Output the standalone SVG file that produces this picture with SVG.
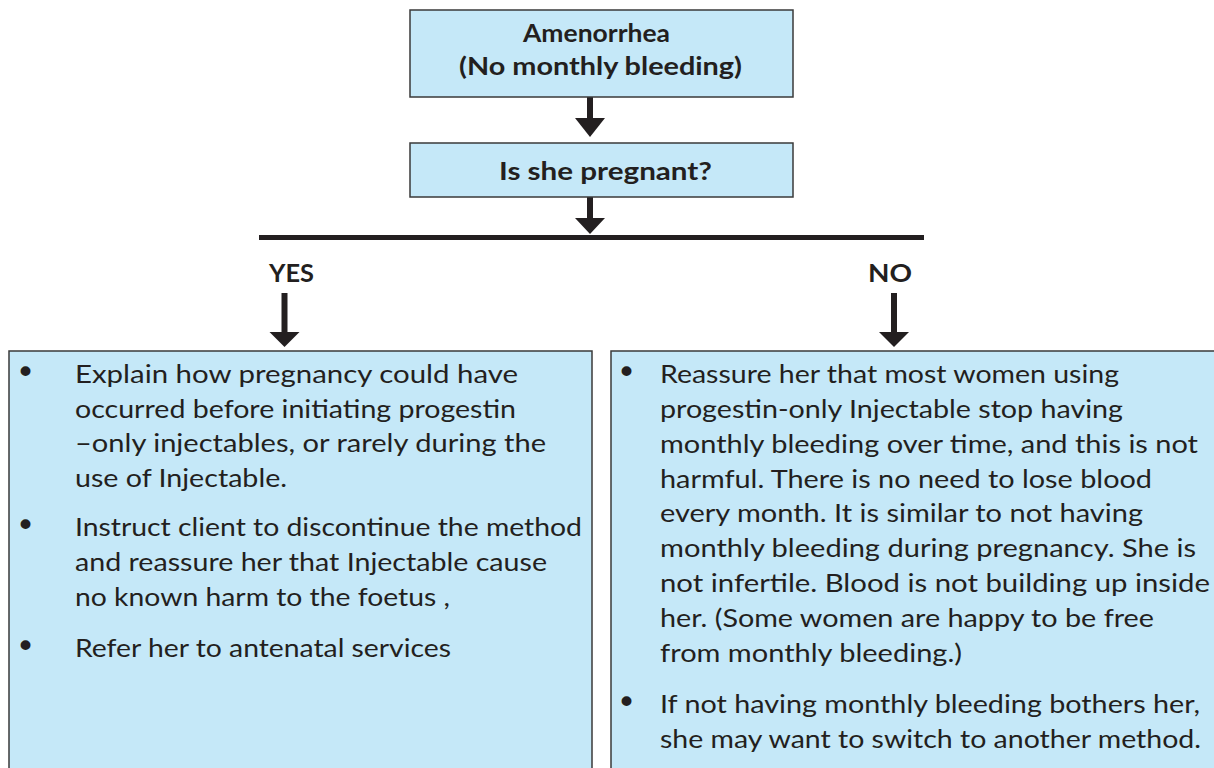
<svg xmlns="http://www.w3.org/2000/svg" width="1214" height="768" viewBox="0 0 1214 768">
<style>
.box{fill:#c5e8f8;stroke:#3a3a3a;stroke-width:1.5}
.t{font-family:Lato,"Liberation Sans",sans-serif;font-size:25px;fill:#231f20}
.b{font-family:Lato,"Liberation Sans",sans-serif;font-weight:bold;font-size:24px;fill:#231f20}
.bul{font-family:"DejaVu Sans",sans-serif;font-size:34px;fill:#231f20;text-anchor:middle}
.sh{stroke:#231f20;stroke-width:6;fill:none}
.hd{fill:#231f20}
</style>
<rect width="1214" height="768" fill="#ffffff"/>
<g id="connectors">
<line class="sh" x1="590" y1="97" x2="590" y2="119"/>
<polygon class="hd" points="575,118 605,118 590,137"/>
<line class="sh" x1="590" y1="197" x2="590" y2="219"/>
<polygon class="hd" points="575,218 605,218 590,234"/>
<line x1="259" y1="237.5" x2="924" y2="237.5" stroke="#231f20" stroke-width="5"/>
<line class="sh" x1="284.5" y1="293" x2="284.5" y2="333"/>
<polygon class="hd" points="269.5,332 299.5,332 284.5,347"/>
<line class="sh" x1="894" y1="293" x2="894" y2="333"/>
<polygon class="hd" points="879,332 909,332 894,347"/>
</g>
<g id="node-amenorrhea">
<rect class="box" x="410" y="10" width="383" height="87"/>
<text class="b" x="596.5" y="42" text-anchor="middle" textLength="147" lengthAdjust="spacingAndGlyphs">Amenorrhea</text>
<text class="b" x="600.5" y="75" text-anchor="middle" textLength="283" lengthAdjust="spacingAndGlyphs">(No monthly bleeding)</text>
</g>
<g id="node-pregnant">
<rect class="box" x="410" y="143" width="383" height="54"/>
<text class="b" x="605.5" y="180" text-anchor="middle" textLength="213" lengthAdjust="spacingAndGlyphs">Is she pregnant?</text>
</g>
<g id="label-yes">
<text class="b" x="291.5" y="282" text-anchor="middle" font-size="26" textLength="45" lengthAdjust="spacingAndGlyphs">YES</text>
</g>
<g id="label-no">
<text class="b" x="890" y="282" text-anchor="middle" font-size="26" textLength="44" lengthAdjust="spacingAndGlyphs">NO</text>
</g>
<g id="node-yes">
<rect class="box" x="9" y="351" width="583" height="450"/>
<text class="bul" x="25.5" y="384">•</text>
<text class="t" x="75" y="383" textLength="443" lengthAdjust="spacingAndGlyphs">Explain how pregnancy could have</text>
<text class="t" x="75" y="417.5" textLength="441" lengthAdjust="spacingAndGlyphs">occurred before initiating progestin</text>
<text class="t" x="75" y="452" textLength="471" lengthAdjust="spacingAndGlyphs">–only injectables, or rarely during the</text>
<text class="t" x="75" y="487" textLength="212" lengthAdjust="spacingAndGlyphs">use of Injectable.</text>
<text class="bul" x="25.5" y="537">•</text>
<text class="t" x="75" y="536" textLength="507" lengthAdjust="spacingAndGlyphs">Instruct client to discontinue the method</text>
<text class="t" x="75" y="571" textLength="472" lengthAdjust="spacingAndGlyphs">and reassure her that Injectable cause</text>
<text class="t" x="75" y="606" textLength="375" lengthAdjust="spacingAndGlyphs">no known harm to the foetus ,</text>
<text class="bul" x="25.5" y="658">•</text>
<text class="t" x="75" y="657" textLength="376" lengthAdjust="spacingAndGlyphs">Refer her to antenatal services</text>
</g>
<g id="node-no">
<rect class="box" x="611" y="351" width="700" height="450"/>
<text class="bul" x="626.5" y="384">•</text>
<text class="t" x="660" y="383" textLength="459" lengthAdjust="spacingAndGlyphs">Reassure her that most women using</text>
<text class="t" x="660" y="418" textLength="463" lengthAdjust="spacingAndGlyphs">progestin-only Injectable stop having</text>
<text class="t" x="660" y="453" textLength="538" lengthAdjust="spacingAndGlyphs">monthly bleeding over time, and this is not</text>
<text class="t" x="660" y="488" textLength="492" lengthAdjust="spacingAndGlyphs">harmful. There is no need to lose blood</text>
<text class="t" x="660" y="522" textLength="483" lengthAdjust="spacingAndGlyphs">every month. It is similar to not having</text>
<text class="t" x="660" y="557" textLength="536" lengthAdjust="spacingAndGlyphs">monthly bleeding during pregnancy. She is</text>
<text class="t" x="660" y="592" textLength="550" lengthAdjust="spacingAndGlyphs">not infertile. Blood is not building up inside</text>
<text class="t" x="660" y="627" textLength="494" lengthAdjust="spacingAndGlyphs">her. (Some women are happy to be free</text>
<text class="t" x="660" y="662" textLength="302" lengthAdjust="spacingAndGlyphs">from monthly bleeding.)</text>
<text class="bul" x="626.5" y="714">•</text>
<text class="t" x="660" y="713" textLength="540" lengthAdjust="spacingAndGlyphs">If not having monthly bleeding bothers her,</text>
<text class="t" x="660" y="748" textLength="541" lengthAdjust="spacingAndGlyphs">she may want to switch to another method.</text>
</g>
</svg>
